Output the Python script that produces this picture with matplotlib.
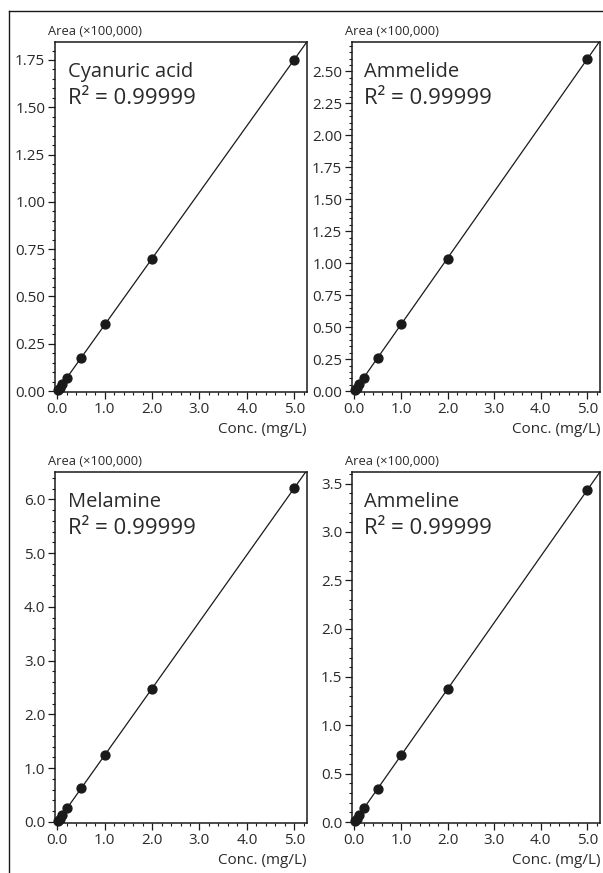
import numpy as np
import matplotlib
matplotlib.use("Agg")
import matplotlib.pyplot as plt
from matplotlib.ticker import MultipleLocator, FormatStrFormatter
from matplotlib.lines import Line2D

plt.rcParams['font.family'] = ['Open Sans', 'DejaVu Sans']

# ---- data ----
conc = [0.02, 0.05, 0.1, 0.2, 0.5, 1.0, 2.0, 5.0]
names = ["Cyanuric acid", "Ammelide", "Melamine", "Ammeline"]
r2_labels = ["R² = 0.99999", "R² = 0.99999", "R² = 0.99999", "R² = 0.99999"]
area_cyanuric = [0.007, 0.0175, 0.035, 0.070, 0.175, 0.352, 0.700, 1.752]
area_ammelide = [0.0104, 0.026, 0.052, 0.105, 0.262, 0.522, 1.035, 2.600]
area_melamine = [0.025, 0.062, 0.124, 0.250, 0.622, 1.250, 2.480, 6.210]
area_ammeline = [0.014, 0.034, 0.069, 0.140, 0.345, 0.690, 1.375, 3.435]
series = [area_cyanuric, area_ammelide, area_melamine, area_ammeline]
x_ticks = [0.0, 1.0, 2.0, 3.0, 4.0, 5.0]
y_ranges = [(-0.005, 1.845), (-0.007, 2.73), (-0.02, 6.51), (-0.01, 3.62)]
y_major = [0.25, 0.25, 1.0, 0.5]
y_minor = [0.05, 0.05, 0.2, 0.1]
y_fmt = ["%.2f", "%.2f", "%.1f", "%.1f"]

W, H = 603, 873
fig = plt.figure(figsize=(W / 100, H / 100), dpi=100)

ink = '#1a1a1a'
txt = '#2a2a2a'
boxes = [(55, 42, 307, 392), (352, 42, 600, 392),
         (55, 472, 307, 823), (352, 472, 600, 823)]

for i, (l, t, r, b) in enumerate(boxes):
    ax = fig.add_axes([l / W, 1 - b / H, (r - l) / W, (b - t) / H])
    x = np.array(conc)
    y = np.array(series[i])
    k, c = np.polyfit(x, y, 1)
    xl = np.array([-0.05, 5.3])
    ax.plot(xl, k * xl + c, color=ink, lw=0.9, zorder=2)
    ax.plot(x, y, 'o', color=ink, ms=6.4, zorder=3, clip_on=False)
    ax.set_xlim(-0.05, 5.27)
    ax.set_ylim(*y_ranges[i])
    ax.set_xticks(x_ticks)
    ax.xaxis.set_major_formatter(FormatStrFormatter("%.1f"))
    ax.xaxis.set_minor_locator(MultipleLocator(0.2))
    ax.yaxis.set_major_locator(MultipleLocator(y_major[i]))
    ax.yaxis.set_minor_locator(MultipleLocator(y_minor[i]))
    ax.yaxis.set_major_formatter(FormatStrFormatter(y_fmt[i]))
    ax.tick_params(which='major', length=5, width=0.9, color=ink,
                   labelsize=11, labelcolor=txt, pad=2)
    ax.tick_params(which='minor', length=2.5, width=0.8, color=ink)
    for s in ax.spines.values():
        s.set_linewidth(1.1)
        s.set_color(ink)
    ax.set_xlabel("Conc. (mg/L)", loc='right', fontsize=11, color=txt, labelpad=4)
    ax.text(-0.028, 1.012, "Area (×100,000)", transform=ax.transAxes,
            ha='left', va='bottom', fontsize=9.3, color=txt)
    hpx = b - t
    ax.text(0.05, 1 - 35 / hpx, names[i], transform=ax.transAxes, ha='left',
            va='baseline', fontsize=14.5, color=txt)
    ax.text(0.05, 1 - 62 / hpx, r2_labels[i], transform=ax.transAxes, ha='left',
            va='baseline', fontsize=16, color=txt)

# figure frame (top and left lines)
fig.add_artist(Line2D([9 / W, 1.0], [1 - 11 / H, 1 - 11 / H], color=ink, lw=1.0,
                      transform=fig.transFigure))
fig.add_artist(Line2D([9 / W, 9 / W], [1 - 11 / H, 0.0], color=ink, lw=1.0,
                      transform=fig.transFigure))

fig.savefig("out.png", dpi=100)
